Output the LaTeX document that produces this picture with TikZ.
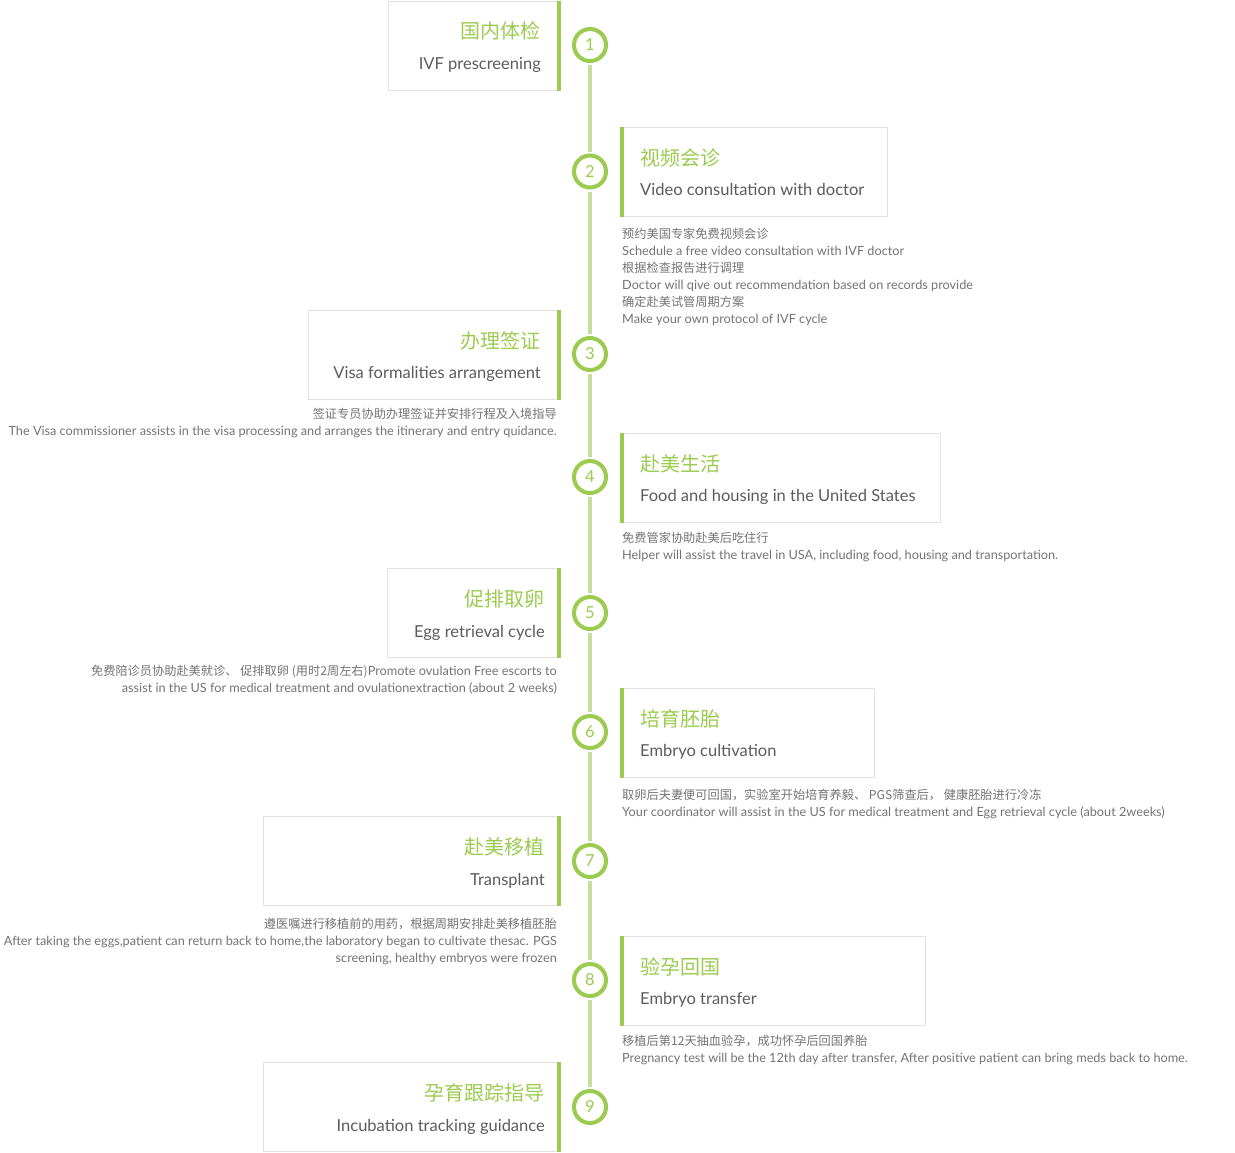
\documentclass[tikz,border=0pt]{standalone}
\usepackage{fontspec}
\setmainfont{Lato}
\newfontfamily\cjk{Noto Sans CJK SC}
\usepackage{tikz}
\usetikzlibrary{shapes,arrows,positioning}
\definecolor{leafgreen}{HTML}{9BCB4F}
\definecolor{stemgreen}{HTML}{C4DF9C}
\definecolor{framegray}{HTML}{E2E2E2}
\definecolor{inkgray}{HTML}{5C5C5C}
\definecolor{notegray}{HTML}{747474}
\newcommand{\zhnote}[1]{{\cjk\fontsize{12.2}{17}\selectfont #1}}

\begin{document}
\begin{tikzpicture}[x=1pt,y=-1pt,
	num/.style={shape=circle, draw=leafgreen, line width=4pt, fill=white, minimum size=32pt, inner sep=0pt, text=leafgreen, font=\fontsize{16.5}{16.5}\selectfont},
	stem/.style={draw=stemgreen, line width=4pt, shorten <=2pt, shorten >=2pt},
	card/.style={shape=rectangle, draw=framegray, line width=1pt, fill=white, minimum height=89pt, inner sep=0pt},
	bar/.style={draw=leafgreen, line width=4pt},
	cntitle/.style={text=leafgreen, font=\cjk\fontsize{20}{20}\selectfont, inner sep=0pt},
	entitle/.style={text=inkgray, font=\fontsize{16.5}{16.5}\selectfont, inner sep=0pt},
	notes/.style={text=notegray, font=\fontsize{12.7}{17}\selectfont, inner sep=0pt},
	]
	\path[use as bounding box, fill=white] (0,0) rectangle (1235,1152);
	
	\node[num] (c1) at (590,45) {1};
	\node[num] (c2) at (590,171.5) {2};
	\node[num] (c3) at (590,354) {3};
	\node[num] (c4) at (590,477) {4};
	\node[num] (c5) at (590,613) {5};
	\node[num] (c6) at (590,732) {6};
	\node[num] (c7) at (590,861) {7};
	\node[num] (c8) at (590,980) {8};
	\node[num] (c9) at (590,1107) {9};
	
	\path [stem] (c1) edge (c2);
	\path [stem] (c2) edge (c3);
	\path [stem] (c3) edge (c4);
	\path [stem] (c4) edge (c5);
	\path [stem] (c5) edge (c6);
	\path [stem] (c6) edge (c7);
	\path [stem] (c7) edge (c8);
	\path [stem] (c8) edge (c9);
	
	% left column
	\node[card, minimum width=171pt, anchor=north east] (b1) at (560,0.5) {};
	\path [bar] ([xshift=-1.5pt]b1.north east) -- ([xshift=-1.5pt]b1.south east);
	\node[cntitle, anchor=base east] (t1) at (541,38.5) {国内体检};
	\node[entitle, anchor=base east] (e1) at (541,69.5) {IVF prescreening};
	
	\node[card, minimum width=251pt, anchor=north east] (b3) at (560,309.5) {};
	\path [bar] ([xshift=-1.5pt]b3.north east) -- ([xshift=-1.5pt]b3.south east);
	\node[cntitle, anchor=base east] (t3) at (541,348) {办理签证};
	\node[entitle, anchor=base east] (e3) at (541,378.5) {Visa formalities arrangement};
	\node[notes, anchor=north east, align=right] (d3) at (557,406.6) {\strut\zhnote{签证专员协助办理签证并安排行程及入境指导}\\The Visa commissioner assists in the visa processing and arranges the itinerary and entry quidance.};
	
	\node[card, minimum width=172pt, anchor=north east] (b5) at (560,568) {};
	\path [bar] ([xshift=-1.5pt]b5.north east) -- ([xshift=-1.5pt]b5.south east);
	\node[cntitle, anchor=base east] (t5) at (545,606.5) {促排取卵};
	\node[entitle, anchor=base east] (e5) at (545,637.5) {Egg retrieval cycle};
	\node[notes, anchor=north east, align=right] (d5) at (557,663.6) {\strut\zhnote{免费陪诊员协助赴美就诊、 促排取卵 (用时2周左右)}Promote ovulation Free escorts to\\assist in the US for medical treatment and ovulationextraction (about 2 weeks)};
	
	\node[card, minimum width=296pt, anchor=north east] (b7) at (560,816) {};
	\path [bar] ([xshift=-1.5pt]b7.north east) -- ([xshift=-1.5pt]b7.south east);
	\node[cntitle, anchor=base east] (t7) at (545,854.5) {赴美移植};
	\node[entitle, anchor=base east] (e7) at (545,885.5) {Transplant};
	\node[notes, anchor=north east, align=right] (d7) at (557,916.6) {\strut\zhnote{遵医嘱进行移植前的用药，根据周期安排赴美移植胚胎}\\After taking the eggs,patient can return back to home,the laboratory began to cultivate thesac. PGS\\screening, healthy embryos were frozen};
	
	\node[card, minimum width=296pt, anchor=north east] (b9) at (560,1062) {};
	\path [bar] ([xshift=-1.5pt]b9.north east) -- ([xshift=-1.5pt]b9.south east);
	\node[cntitle, anchor=base east] (t9) at (545,1100.5) {孕育跟踪指导};
	\node[entitle, anchor=base east] (e9) at (545,1131.5) {Incubation tracking guidance};
	
	% right column
	\node[card, minimum width=267pt, anchor=north west] (b2) at (620,126.5) {};
	\path [bar] ([xshift=2pt]b2.north west) -- ([xshift=2pt]b2.south west);
	\node[cntitle, anchor=base west] (t2) at (640,165.5) {视频会诊};
	\node[entitle, anchor=base west] (e2) at (640,195.5) {Video consultation with doctor};
	\node[notes, anchor=north west, align=left] (d2) at (622,226.1) {\strut\zhnote{预约美国专家免费视频会诊}\\Schedule a free video consultation with IVF doctor\\\zhnote{根据检查报告进行调理}\\Doctor will qive out recommendation based on records provide\\\zhnote{确定赴美试管周期方案}\\Make your own protocol of IVF cycle};
	
	\node[card, minimum width=320pt, anchor=north west] (b4) at (620,432.5) {};
	\path [bar] ([xshift=2pt]b4.north west) -- ([xshift=2pt]b4.south west);
	\node[cntitle, anchor=base west] (t4) at (640,471) {赴美生活};
	\node[entitle, anchor=base west] (e4) at (640,501.5) {Food and housing in the United States};
	\node[notes, anchor=north west, align=left] (d4) at (622,530.1) {\strut\zhnote{免费管家协助赴美后吃住行}\\Helper will assist the travel in USA, including food, housing and transportation.};
	
	\node[card, minimum width=254pt, anchor=north west] (b6) at (620,687.5) {};
	\path [bar] ([xshift=2pt]b6.north west) -- ([xshift=2pt]b6.south west);
	\node[cntitle, anchor=base west] (t6) at (640,726) {培育胚胎};
	\node[entitle, anchor=base west] (e6) at (640,756.5) {Embryo cultivation};
	\node[notes, anchor=north west, align=left] (d6) at (622,787.1) {\strut\zhnote{取卵后夫妻便可回国，实验室开始培育养毅、 PGS筛查后， 健康胚胎进行冷冻}\\Your coordinator will assist in the US for medical treatment and Egg retrieval cycle (about 2weeks)};
	
	\node[card, minimum width=305pt, anchor=north west] (b8) at (620,935.5) {};
	\path [bar] ([xshift=2pt]b8.north west) -- ([xshift=2pt]b8.south west);
	\node[cntitle, anchor=base west] (t8) at (640,974) {验孕回国};
	\node[entitle, anchor=base west] (e8) at (640,1004.5) {Embryo transfer};
	\node[notes, anchor=north west, align=left] (d8) at (622,1033.1) {\strut\zhnote{移植后第12天抽血验孕，成功怀孕后回国养胎}\\Pregnancy test will be the 12th day after transfer, After positive patient can bring meds back to home.};
\end{tikzpicture}
\end{document}
